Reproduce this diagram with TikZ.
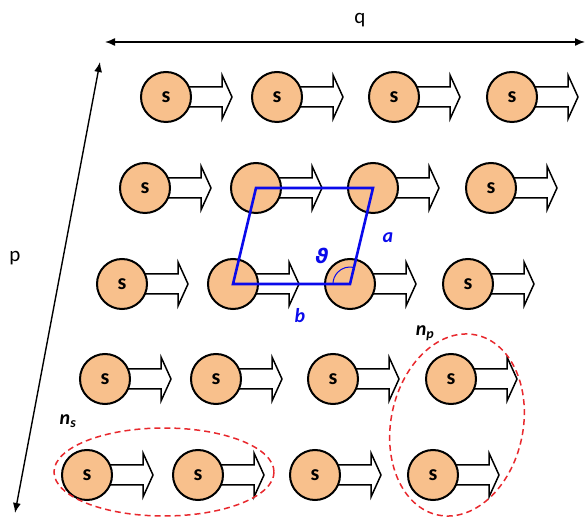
\documentclass[tikz,border=0pt]{standalone}
\usepackage{fontspec}
\setmainfont{Carlito}
\newfontfamily\greekfont{DejaVu Sans}
\usetikzlibrary{arrows.meta, angles}
\definecolor{spinorange}{RGB}{248,192,140}
\definecolor{cellblue}{RGB}{10,10,235}
\definecolor{groupred}{RGB}{232,40,45}

\begin{document}
\begin{tikzpicture}[x=1pt, y=-1pt,
        spin/.style={circle, draw=black, line width=2pt, fill=spinorange, minimum size=50pt, inner sep=0pt, font=\fontsize{22}{22}\selectfont\bfseries},
        spinbar/.style={draw=black, fill=white, line width=1.5pt, line join=miter},
        cell/.style={draw=cellblue, line width=2.6pt, line join=miter},
        axis/.style={{Latex[length=10pt,width=8pt]}-{Latex[length=10pt,width=8pt]}, line width=1.4pt},
        group/.style={draw=groupred, line width=1.5pt, dash pattern=on 6pt off 4pt},
        lbl/.style={font=\fontsize{21}{21}\selectfont},
        blbl/.style={text=cellblue, font=\fontsize{20}{20}\selectfont\bfseries\itshape}]
                \useasboundingbox (0,0) rectangle (587,518);
                \foreach \r/\x/\y in {1/166/97, 2/145/188, 3/122/284, 4/105/379, 5/87/475}
                    \foreach \dx [count=\c] in {0,111,228,346} {
                        \pgfmathtruncatemacro\inside{and(or(\r==2,\r==3),or(\c==2,\c==3))}
                        \draw[spinbar] (\x+\dx,\y) +(0,-10) -- +(56,-10) -- +(56,-22) -- +(66,0) -- +(56,22) -- +(56,10) -- +(0,10) -- cycle;
                        \node[spin] (s\r\c) at (\x+\dx,\y) {\ifnum\inside=1 \else s\fi};
                    }
                \draw[cell] (s22.center) -- (s23.center) -- (s33.center) -- (s32.center) -- cycle;
                \pic[draw=cellblue, line width=1pt, angle radius=17pt] {angle=s23--s33--s32};
                \node[blbl] (lbla) at (388,238) {a};
                \node[blbl] (lblb) at (300,316) {b};
                \node[blbl] (lblth) at (322,256) {\greekfont ϑ};
                \coordinate (qL) at (105,42);
                \coordinate (qR) at (585,42);
                \coordinate (pT) at (100,62);
                \coordinate (pB) at (15,513);
                \draw[axis] (qL) -- (qR);
                \draw[axis] (pB) -- (pT);
                \node[lbl] (qlbl) at (360,20) {q};
                \node[lbl] (plbl) at (15,258) {p};
                \draw[group] (164,472) ellipse [x radius=110, y radius=44];
                \draw[group, rotate around={-12:(457,425)}] (457,425) ellipse [x radius=66, y radius=92];
                \node[font=\fontsize{20}{20}\selectfont\bfseries\itshape] (ns) at (68,421) {n\textsubscript{s}};
                \node[font=\fontsize{20}{20}\selectfont\bfseries\itshape] (np) at (425,333) {n\textsubscript{p}};
            \end{tikzpicture}
\end{document}
